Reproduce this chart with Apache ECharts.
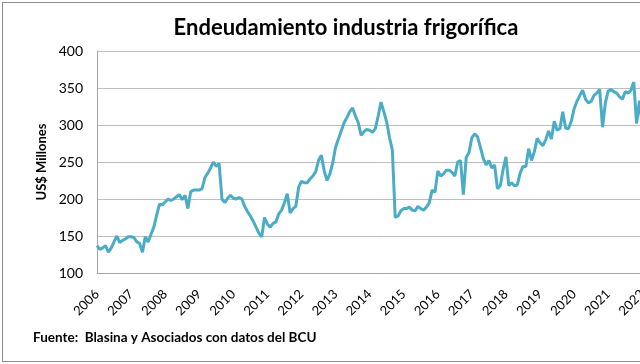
<!DOCTYPE html>
<html><head><meta charset="utf-8">
<script src="https://cdn.jsdelivr.net/npm/echarts@6/dist/echarts.min.js"></script>
<style>
html,body{margin:0;padding:0;width:640px;height:364px;overflow:hidden;background:#fff}
#frame{position:absolute;left:2px;top:2px;width:700px;height:360px;border:1px solid #8c8c8c;box-sizing:border-box;overflow:hidden}
#chart{position:absolute;left:0;top:0;width:698px;height:358px}
</style></head><body>
<div id="frame"><div id="chart"></div></div>
<script>
const titleText = 'Endeudamiento industria frigorífica';
const yAxisName = 'US$ Millones';
const sourceText = 'Fuente:  Blasina y Asociados con datos del BCU';
const startYear = 2006;
const yMin = 100, yMax = 400, yStep = 50;

// Monthly values, US$ millones
const v2006 = [137,132,134,137,128,134,142,150,141,144,146,149];
const v2007 = [149,148,142,140,128,149,142,152,162,178,193,192];
const v2008 = [196,200,198,200,203,206,199,205,187,210,212,212];
const v2009 = [212,214,229,235,242,250,244,248,200,195,201,205];
const v2010 = [201,200,202,200,190,183,177,170,162,154,149,175];
const v2011 = [166,162,167,169,180,185,195,207,181,187,190,216];
const v2012 = [224,222,222,227,231,237,252,259,238,225,234,249];
const v2013 = [270,281,292,303,310,318,323,312,303,286,291,294];
const v2014 = [293,290,295,312,331,318,304,283,266,175,177,184];
const v2015 = [187,187,189,185,184,190,187,185,189,195,212,209];
const v2016 = [238,231,234,239,239,236,231,250,252,206,256,263];
const v2017 = [283,288,284,270,255,246,252,242,246,214,218,240];
const v2018 = [257,218,222,218,219,235,244,244,268,252,264,282];
const v2019 = [276,272,280,292,281,305,293,295,318,296,295,305];
const v2020 = [322,332,340,347,335,330,332,340,343,348,297,330];
const v2021 = [346,348,345,343,338,335,345,343,347,358,302,333];
const v2022 = [300];

const values = [].concat(v2006,v2007,v2008,v2009,v2010,v2011,v2012,v2013,v2014,v2015,v2016,v2017,v2018,v2019,v2020,v2021,v2022);
const axisMonths = values.length + 5;
const months = [];
for (let i = 0; i < axisMonths; i++) {
  const y = startYear + Math.floor(i / 12);
  const m = (i % 12) + 1;
  months.push(y + '-' + (m < 10 ? '0' + m : m));
}

const FONT = 'Lato, "Open Sans", sans-serif';
const chart = echarts.init(document.getElementById('chart'));
chart.setOption({
  animation: false,
  backgroundColor: '#fff',
  grid: { left: 94, top: 48, width: (axisMonths - 1) * 2.84, height: 222 },
  graphic: [
    { type: 'text', x: 343, y: 25, style: { text: titleText, font: 'bold 22px ' + FONT, fill: '#000', align: 'center', verticalAlign: 'middle' } },
    { type: 'text', x: 39, y: 159, rotation: Math.PI / 2, style: { text: yAxisName, font: 'bold 13px ' + FONT, fill: '#000', align: 'center', verticalAlign: 'middle' } },
    { type: 'text', x: 30, y: 335, style: { text: sourceText, font: 'bold 13.5px ' + FONT, fill: '#000', align: 'left', verticalAlign: 'middle' } }
  ],
  xAxis: {
    type: 'category', data: months, boundaryGap: false,
    axisLine: { lineStyle: { color: '#a6a6a6', width: 1 } },
    axisTick: { show: false },
    splitLine: { show: false },
    axisLabel: {
      interval: function (idx) { return idx % 12 === 0; },
      formatter: function (v) { return v.slice(0, 4); },
      rotate: 45, margin: 19, fontSize: 13, color: '#000', fontFamily: FONT
    }
  },
  yAxis: {
    type: 'value', min: yMin, max: yMax, interval: yStep,
    axisLine: { show: true, lineStyle: { color: '#a6a6a6', width: 1 } },
    axisTick: { show: false },
    splitLine: { lineStyle: { color: '#bfbfbf', width: 1 } },
    axisLabel: { fontSize: 14, color: '#000', margin: 14, fontFamily: FONT }
  },
  series: [{
    type: 'line', data: values, showSymbol: false, symbol: 'none',
    lineStyle: { color: '#4BACC6', width: 3 }, itemStyle: { color: '#4BACC6' }
  }]
});
</script>
</body></html>
